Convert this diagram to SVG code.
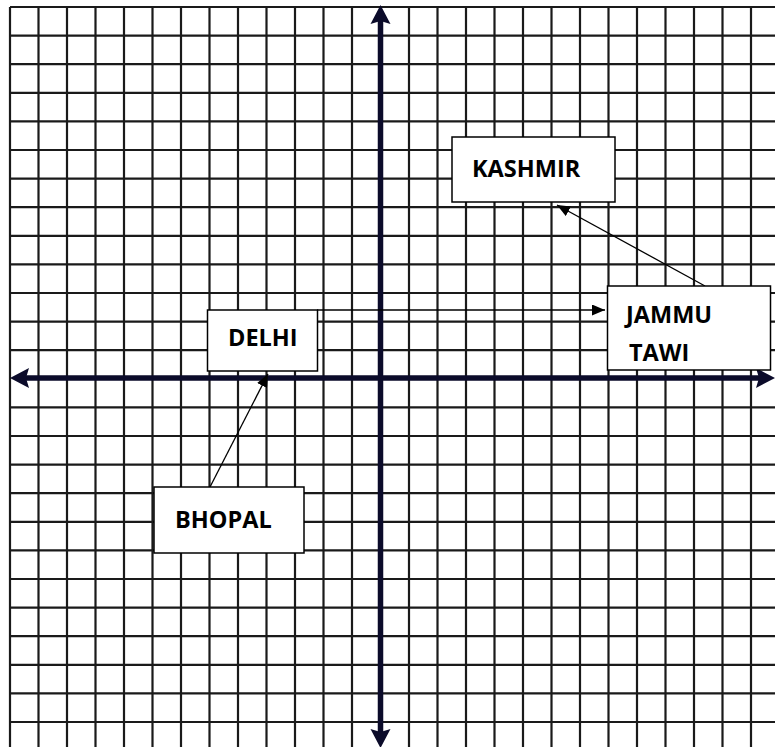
<svg xmlns="http://www.w3.org/2000/svg" width="775" height="747" viewBox="0 0 775 747">
<defs>
<style>
.grid{stroke:#1a1a1a;stroke-width:2.2;fill:none}
.axis{stroke:#0b0b2a;stroke-width:5.5;fill:none}
.axhead{fill:#0b0b2a}
.box{fill:#fff;stroke:#000;stroke-width:1.5}
.lbl{font-family:"Open Sans","Liberation Sans",Arial,sans-serif;font-weight:bold;font-size:23.5px;fill:#000}
.conn{stroke:#000;stroke-width:1.3;fill:none;marker-end:url(#ah)}
</style>
<marker id="ah" markerUnits="userSpaceOnUse" markerWidth="14" markerHeight="12" refX="13" refY="5.5" orient="auto">
<path d="M0,0 L13,5.5 L0,11 Z" fill="#000"/>
</marker>
</defs>
<rect width="775" height="747" fill="#fff"/>
<g id="grid">
<path class="grid" d="M10,7V747M38.5,7V747M67,7V747M95.5,7V747M124,7V747M152.5,7V747M181,7V747M209.5,7V747M238,7V747M266.5,7V747M295,7V747M323.5,7V747M352,7V747M409,7V747M437.5,7V747M466,7V747M494.5,7V747M523,7V747M551.5,7V747M580,7V747M608.5,7V747M637,7V747M665.5,7V747M694,7V747M722.5,7V747M751,7V747"/>
<path class="grid" d="M10,7H775M10,35.6H775M10,64.2H775M10,92.8H775M10,121.4H775M10,150H775M10,178.6H775M10,207.2H775M10,235.8H775M10,264.4H775M10,293H775M10,321.6H775M10,350.2H775M10,407.4H775M10,436H775M10,464.6H775M10,493.2H775M10,521.8H775M10,550.4H775M10,579H775M10,607.6H775M10,636.2H775M10,664.8H775M10,693.4H775M10,722H775"/>
</g>
<g id="axes">
<path class="axis" d="M380.5,20V732"/>
<path class="axis" d="M25,378H760"/>
<path class="axhead" d="M380.5,5L390.5,24L380.5,21L370.5,24Z"/>
<path class="axhead" d="M380.5,748L390.5,729L380.5,732L370.5,729Z"/>
<path class="axhead" d="M10,378L29,368L26,378L29,388Z"/>
<path class="axhead" d="M775,378L756,368L759,378L756,388Z"/>
</g>
<g id="connectors">
<path class="conn" d="M317,310H605"/>
<path class="conn" d="M705,286L557,205"/>
<path class="conn" d="M210,487L268,374"/>
</g>
<g id="kashmir">
<rect class="box" x="452" y="137" width="163" height="65"/>
<text class="lbl" x="472" y="177">KASHMIR</text>
</g>
<g id="delhi">
<rect class="box" x="207.5" y="310" width="110" height="61"/>
<text class="lbl" x="228" y="346">DELHI</text>
</g>
<g id="jammu-tawi">
<rect class="box" x="607.5" y="286" width="163" height="84"/>
<text class="lbl" x="626" y="323">JAMMU</text>
<text class="lbl" x="629" y="361">TAWI</text>
</g>
<g id="bhopal">
<rect class="box" x="154" y="487" width="150" height="66"/>
<text class="lbl" x="175" y="528">BHOPAL</text>
</g>
</svg>
